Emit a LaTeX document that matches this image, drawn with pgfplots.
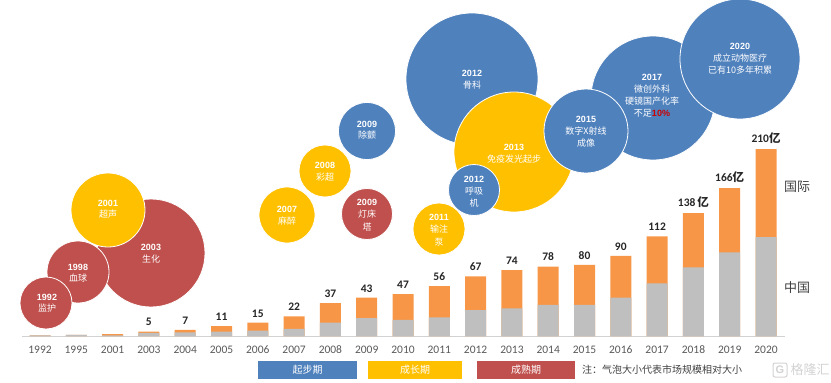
\documentclass[border=0pt]{standalone}
\usepackage{pgfplots}
\pgfplotsset{compat=1.18}
\usepackage{pgfplotstable}
\usepackage{fontspec}
\setmainfont{Carlito}
\newfontfamily\cjk{Noto Sans CJK SC}
\newfontfamily\arl{Liberation Sans}
\definecolor{cblue}{HTML}{4F81BD}
\definecolor{cyellow}{HTML}{FFC000}
\definecolor{cred}{HTML}{C0504D}
\definecolor{corange}{HTML}{F79646}
\definecolor{cgray}{HTML}{BFBFBF}
\definecolor{tickgray}{HTML}{595959}
\newcommand{\yi}{{\cjk\bfseries 亿}}

\pgfplotstableread{
x china total label
0 0.6 0.7 {}
1 1.2 1.4 {}
2 0.8 2 {}
3 3.5 5 5
4 4 7 7
5 5 11 11
6 6 15 15
7 8 22 22
8 15 37 37
9 20 43 43
10 18 47 47
11 21 56 56
12 29 67 67
13 31 74 74
14 35 78 78
15 35 80 80
16 43 90 90
17 59 112 112
18 77 138 {138\,\yi}
19 94 166 {166\yi}
20 111 210 {210\yi}
}\bars

\pgfplotstableread{
x y r
151 253 54
78 272 31
46 303 26
367 214 25.5
}\redA
\pgfplotstableread{
x y r
108 210 37
287 215 28
325 171 26
}\yelA
\pgfplotstableread{
x y r
472 79 66
367 131 28.5
}\bluA
\pgfplotstableread{
x y r
514 152 60
439 229 26
}\yelB
\pgfplotstableread{
x y r
474 190 25.5
653 98 62
740 59 60
586 131 42
}\bluB

\newcommand{\yr}[3]{\node[text=white,font=\arl\bfseries\fontsize{9}{9}\selectfont,inner sep=0pt] at (axis cs:#1,#2) {#3};}
\newcommand{\zh}[3]{\node[text=white,font=\cjk\fontsize{9}{9}\selectfont,inner sep=0pt] at (axis cs:#1,#2) {#3};}

\pgfplotsset{bubble/.style={scatter, only marks, mark=*,
  scatter/use mapped color={draw=white, fill=#1},
  mark options={line width=0.8pt},
  visualization depends on={\thisrow{r} \as \rad},
  scatter/@pre marker code/.append style={/tikz/mark size=\rad pt}},
  pix/.style={at={(0,0)}, anchor=south west, scale only axis, width=831pt, height=383pt,
  xmin=0, xmax=831, ymin=0, ymax=383, y dir=reverse, hide axis}}

\begin{document}
\begin{tikzpicture}
% bubbles in pixel coordinates
\begin{axis}[pix]
\addplot[draw=cgray!70, line width=1.2pt] coordinates {(22,336.5) (785,336.5)};
\addplot[bubble=cred] table[x=x,y=y] {\redA};
\addplot[bubble=cyellow] table[x=x,y=y] {\yelA};
\addplot[bubble=cblue] table[x=x,y=y] {\bluA};
\addplot[bubble=cyellow] table[x=x,y=y] {\yelB};
\addplot[bubble=cblue] table[x=x,y=y] {\bluB};
\end{axis}
% texts in pixel coordinates
\begin{axis}[pix, clip=false]
\yr{151}{247}{2003}\zh{151}{259}{生化}
\yr{78}{267}{1998}\zh{78}{278}{血球}
\yr{47}{297}{1992}\zh{47}{308}{监护}
\yr{108}{203}{2001}\zh{108}{214}{超声}
\yr{287}{209}{2007}\zh{287}{221}{麻醉}
\yr{325}{165}{2008}\zh{325}{177}{彩超}
\yr{367}{124}{2009}\zh{367}{135}{除颤}
\yr{367}{202}{2009}\zh{367}{214}{灯床}\zh{367}{227}{塔}
\yr{439}{217}{2011}\zh{439}{229}{输注}\zh{439}{242}{泵}
\yr{474}{179}{2012}\zh{474}{191}{呼吸}\zh{474}{203}{机}
\yr{472}{73}{2012}\zh{472}{85}{骨科}
\yr{514}{147}{2013}\zh{514}{159}{免疫发光起步}
\yr{586}{119}{2015}\zh{586}{131}{数字X射线}\zh{586}{143}{成像}
\yr{652}{77}{2017}\zh{652}{89}{微创外科}\zh{652}{101}{硬镜国产化率}
\node[inner sep=0pt] at (axis cs:652,113) {\textcolor{white}{\cjk\fontsize{9}{9}\selectfont 不足}\textcolor{red!80!black}{\arl\bfseries\fontsize{9}{9}\selectfont 10\%}};
\yr{740}{46}{2020}\zh{740}{58}{成立动物医疗}\zh{740}{70}{已有10多年积累}
% side labels
\node[font=\cjk\fontsize{13}{13}\selectfont, text=black!75] at (axis cs:797,187) {国际};
\node[font=\cjk\fontsize{13}{13}\selectfont, text=black!75] at (axis cs:797,288) {中国};
% legend
\node[fill=cblue, minimum width=99pt, minimum height=18pt, inner sep=0pt, text=white, font=\cjk\fontsize{10}{10}\selectfont] at (axis cs:307.5,370) {起步期};
\node[fill=cyellow, minimum width=94pt, minimum height=18pt, inner sep=0pt, text=white, font=\cjk\fontsize{10}{10}\selectfont] at (axis cs:415,370) {成长期};
\node[fill=cred, minimum width=98pt, minimum height=18pt, inner sep=0pt, text=white, font=\cjk\fontsize{10}{10}\selectfont] at (axis cs:526,370) {成熟期};
\node[anchor=west, inner sep=0pt, font=\cjk\fontsize{10}{10}\selectfont, text=black!75] at (axis cs:582,370) {注：气泡大小代表市场规模相对大小};
\node[draw=gray!35, rounded corners=2pt, line width=1pt, minimum size=14pt, inner sep=0pt, text=gray!35, font=\arl\bfseries\fontsize{11}{11}\selectfont] at (axis cs:780,370) {G};
\node[font=\cjk\fontsize{13}{13}\selectfont, text=gray!35, inner sep=0pt] at (axis cs:810,370) {格隆汇};
\end{axis}
% bars
\begin{axis}[at={(0,0)}, anchor=south west, scale only axis, width=831pt, height=383pt,
  xmin=-1.102, xmax=21.79, ymin=-52.8, ymax=377.5,
  ybar, bar width=21pt, bar shift=0pt,
  axis x line=middle, axis y line=none,
  x axis line style={draw=none}, xtick style={draw=none},
  xtick={0,...,20},
  xticklabels={1992,1995,2001,2003,2004,2005,2006,2007,2008,2009,2010,2011,2012,2013,2014,2015,2016,2017,2018,2019,2020},
  xticklabel style={font=\fontsize{11.5}{11.5}\selectfont, text=tickgray, yshift=-4pt},
  ]
\addplot[fill=corange, draw=none,
  nodes near coords, point meta=explicit symbolic,
  every node near coord/.append style={font=\bfseries\fontsize{11.5}{11.5}\selectfont, text=black!85, anchor=south, yshift=2pt}]
  table[x=x, y=total, meta=label] {\bars};
\addplot[fill=cgray, draw=none] table[x=x, y=china] {\bars};
\end{axis}
\pgfresetboundingbox
\path[use as bounding box] (0,0) rectangle (831pt,383pt);
\end{tikzpicture}
\end{document}
